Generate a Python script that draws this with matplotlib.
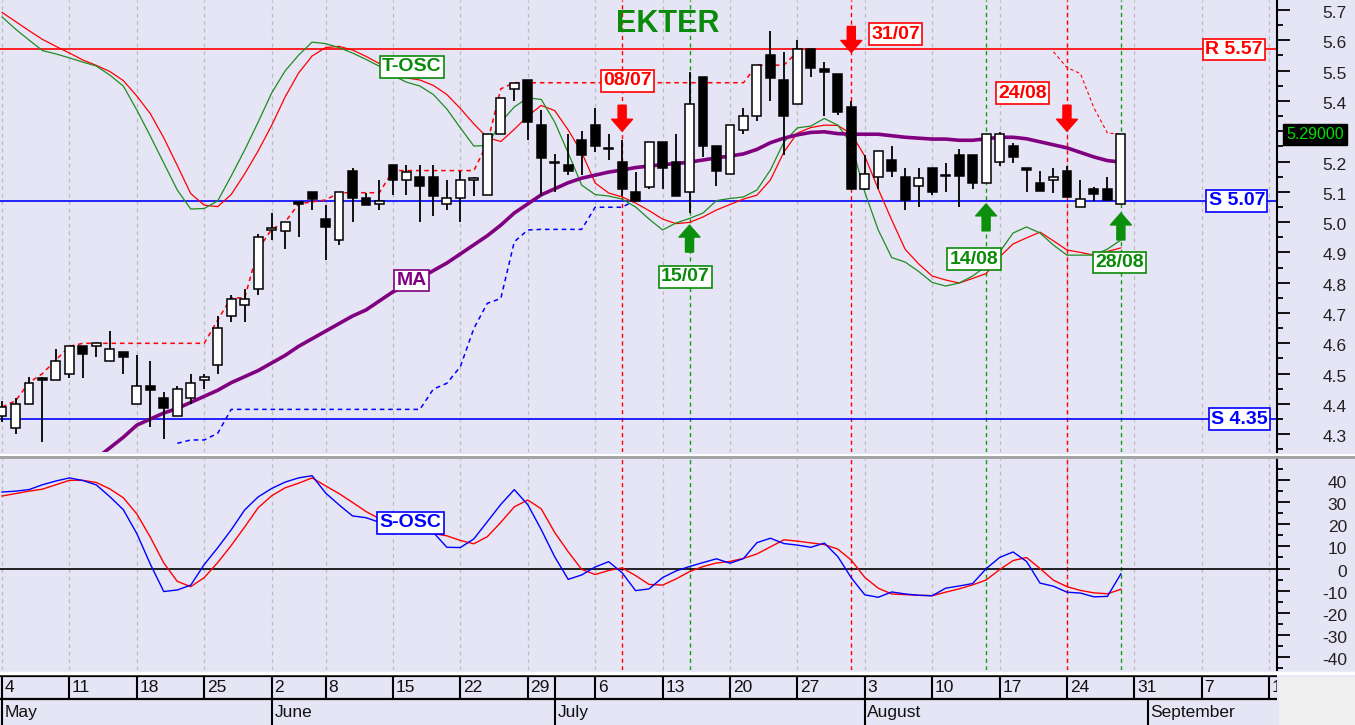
import numpy as np
import matplotlib.pyplot as plt
import matplotlib.transforms as mtrans
from matplotlib.lines import Line2D
from matplotlib.patches import Rectangle

plt.rcParams['font.family'] = ['Liberation Sans', 'DejaVu Sans']

# ---- daily candles (trading-day index 0 = 4 May) ----
opens = [4.36, 4.32, 4.40, 4.485, 4.48, 4.50, 4.59, 4.59, 4.54, 4.57,
         4.40, 4.46, 4.42, 4.36, 4.42, 4.48, 4.53, 4.69, 4.725, 4.78,
         4.975, 4.97, 5.065, 5.10, 5.01, 4.94, 5.17, 5.08, 5.06, 5.19,
         5.14, 5.15, 5.15, 5.06, 5.08, 5.14, 5.09, 5.29, 5.44, 5.47,
         5.32, 5.20, 5.19, 5.27, 5.32, 5.245, 5.20, 5.10, 5.115, 5.265,
         5.20, 5.10, 5.48, 5.25, 5.16, 5.305, 5.35, 5.55, 5.47, 5.39,
         5.57, 5.505, 5.49, 5.38, 5.108, 5.15, 5.205, 5.15, 5.12, 5.18,
         5.157, 5.22, 5.22, 5.128, 5.20, 5.25, 5.177, 5.13, 5.14, 5.17,
         5.05, 5.108, 5.108, 5.06]
highs = [4.41, 4.42, 4.49, 4.49, 4.58, 4.59, 4.59, 4.60, 4.64, 4.57,
         4.56, 4.54, 4.44, 4.46, 4.50, 4.50, 4.69, 4.76, 4.78, 4.96,
         5.03, 5.00, 5.065, 5.10, 5.055, 5.10, 5.18, 5.095, 5.14, 5.19,
         5.19, 5.19, 5.19, 5.14, 5.17, 5.15, 5.29, 5.41, 5.46, 5.47,
         5.37, 5.225, 5.29, 5.30, 5.375, 5.29, 5.27, 5.165, 5.265, 5.265,
         5.29, 5.495, 5.48, 5.25, 5.32, 5.375, 5.52, 5.63, 5.56, 5.60,
         5.57, 5.53, 5.49, 5.40, 5.22, 5.235, 5.25, 5.177, 5.177, 5.18,
         5.195, 5.24, 5.22, 5.29, 5.297, 5.26, 5.177, 5.17, 5.177, 5.186,
         5.14, 5.117, 5.15, 5.29]
lows = [4.34, 4.30, 4.40, 4.275, 4.48, 4.485, 4.485, 4.555, 4.54, 4.50,
        4.40, 4.325, 4.285, 4.36, 4.40, 4.45, 4.50, 4.67, 4.67, 4.76,
        4.94, 4.91, 4.95, 5.04, 4.875, 4.925, 5.00, 5.055, 5.04, 5.09,
        5.09, 5.00, 5.02, 5.04, 5.00, 5.085, 5.09, 5.29, 5.40, 5.27,
        5.085, 5.10, 5.155, 5.155, 5.23, 5.205, 5.085, 5.07, 5.11, 5.11,
        5.085, 5.03, 5.215, 5.12, 5.16, 5.29, 5.335, 5.40, 5.22, 5.39,
        5.48, 5.35, 5.355, 5.11, 5.105, 5.11, 5.15, 5.04, 5.05, 5.09,
        5.10, 5.05, 5.11, 5.128, 5.185, 5.195, 5.10, 5.104, 5.095, 5.084,
        5.05, 5.07, 5.073, 5.06]
closes = [4.39, 4.40, 4.47, 4.48, 4.54, 4.59, 4.565, 4.60, 4.58, 4.555,
          4.46, 4.445, 4.385, 4.45, 4.47, 4.49, 4.65, 4.745, 4.745, 4.95,
          4.975, 5.00, 5.06, 5.075, 4.985, 5.10, 5.08, 5.055, 5.07, 5.14,
          5.165, 5.12, 5.085, 5.08, 5.14, 5.147, 5.29, 5.41, 5.46, 5.33,
          5.21, 5.195, 5.17, 5.22, 5.25, 5.24, 5.11, 5.07, 5.265, 5.18,
          5.085, 5.39, 5.25, 5.17, 5.32, 5.35, 5.52, 5.475, 5.35, 5.57,
          5.51, 5.495, 5.365, 5.11, 5.16, 5.235, 5.17, 5.073, 5.147, 5.10,
          5.153, 5.152, 5.13, 5.29, 5.29, 5.215, 5.172, 5.104, 5.15, 5.084,
          5.076, 5.093, 5.073, 5.29]

# ---- moving average (starts at index 7) ----
ma_start = 7
ma = [4.22, 4.255, 4.29, 4.33, 4.35, 4.37, 4.385, 4.405, 4.425, 4.445,
      4.47, 4.49, 4.51, 4.535, 4.56, 4.59, 4.615, 4.64, 4.665, 4.69,
      4.71, 4.74, 4.77, 4.79, 4.815, 4.84, 4.865, 4.895, 4.925, 4.955,
      4.99, 5.03, 5.06, 5.09, 5.11, 5.13, 5.145, 5.155, 5.165, 5.172,
      5.18, 5.185, 5.19, 5.193, 5.198, 5.205, 5.212, 5.218, 5.225, 5.24,
      5.262, 5.277, 5.288, 5.296, 5.298, 5.292, 5.29, 5.29, 5.29, 5.285,
      5.28, 5.277, 5.274, 5.274, 5.27, 5.27, 5.275, 5.28, 5.28, 5.275,
      5.265, 5.255, 5.245, 5.23, 5.215, 5.203, 5.198]

# ---- T-OSC (drawn on the price scale) ----
tosc_green = [5.677, 5.637, 5.601, 5.566, 5.555, 5.542, 5.528, 5.515, 5.485, 5.449,
              5.370, 5.284, 5.195, 5.106, 5.043, 5.045, 5.070, 5.152, 5.238, 5.330,
              5.426, 5.499, 5.551, 5.594, 5.589, 5.576, 5.558, 5.537, 5.514, 5.484,
              5.462, 5.449, 5.421, 5.373, 5.311, 5.251, 5.253, 5.330, 5.380, 5.410,
              5.405, 5.330, 5.228, 5.122, 5.091, 5.086, 5.076, 5.050, 5.010, 4.974,
              4.997, 5.012, 5.030, 5.071, 5.078, 5.083, 5.106, 5.172, 5.264, 5.311,
              5.317, 5.342, 5.320, 5.258, 5.099, 4.974, 4.883, 4.868, 4.837, 4.801,
              4.789, 4.799, 4.822, 4.855, 4.901, 4.964, 4.984, 4.964, 4.924, 4.891,
              4.891, 4.891, 4.911, 4.941]
tosc_red = [5.692, 5.662, 5.632, 5.603, 5.580, 5.558, 5.535, 5.517, 5.497, 5.467,
            5.416, 5.358, 5.278, 5.187, 5.094, 5.056, 5.051, 5.091, 5.159, 5.235,
            5.319, 5.413, 5.492, 5.548, 5.576, 5.580, 5.568, 5.547, 5.523, 5.492,
            5.476, 5.469, 5.451, 5.421, 5.375, 5.324, 5.279, 5.266, 5.306, 5.350,
            5.385, 5.368, 5.304, 5.230, 5.129, 5.096, 5.083, 5.063, 5.038, 5.010,
            4.995, 4.999, 5.017, 5.040, 5.058, 5.076, 5.089, 5.139, 5.231, 5.294,
            5.312, 5.320, 5.319, 5.291, 5.218, 5.109, 5.007, 4.910, 4.862, 4.822,
            4.809, 4.799, 4.814, 4.830, 4.885, 4.928, 4.948, 4.967, 4.938, 4.908,
            4.900, 4.891, 4.903, 4.915]

# ---- trailing stops ----
trail_red_a = [4.39, 4.41, 4.47, 4.50, 4.545, 4.59, 4.60, 4.60, 4.60, 4.60,
               4.60, 4.60, 4.60, 4.60, 4.60, 4.60, 4.677, 4.75, 4.75, 4.91,
               4.976, 5.00, 5.06, 5.067, 5.073, 5.097, 5.097, 5.097, 5.097, 5.17,
               5.17, 5.17, 5.17, 5.17, 5.17, 5.17, 5.26, 5.44, 5.46, 5.46,
               5.46, 5.46, 5.46, 5.46, 5.46, 5.46, 5.46, 5.46, 5.46, 5.46,
               5.46, 5.46, 5.46, 5.46, 5.46, 5.46, 5.518, 5.518, 5.518, 5.562]
trail_red_b_start = 78
trail_red_b = [5.562, 5.51, 5.49, 5.377, 5.294, 5.29]
trail_blue_start = 13
trail_blue = [4.27, 4.281, 4.281, 4.303, 4.382, 4.382, 4.382, 4.382, 4.382, 4.382,
              4.382, 4.382, 4.382, 4.382, 4.382, 4.382, 4.382, 4.382, 4.382, 4.449,
              4.468, 4.523, 4.649, 4.732, 4.748, 4.935, 4.974, 4.976, 4.976, 4.976,
              4.976, 5.049, 5.049, 5.049, 5.073]

# ---- S-OSC (lower panel) ----
sosc_blue = [34.6, 35.0, 35.7, 37.9, 39.6, 41.0, 39.8, 37.8, 32.5, 26.6,
             15.8, 2.0, -10.4, -9.7, -7.5, 1.8, 9.4, 17.5, 26.5, 32.4,
             36.2, 39.1, 41.0, 42.0, 34.2, 28.8, 23.8, 23.0, 20.9, 19.5,
             18.5, 17.5, 16.3, 9.6, 9.5, 13.4, 21.2, 29.0, 35.7, 28.9,
             17.6, 5.3, -4.9, -2.9, 0.7, 3.1, -1.9, -10.0, -9.2, -4.1,
             -1.1, 0.9, 2.7, 4.4, 2.4, 4.5, 11.7, 13.7, 11.3, 10.6,
             9.6, 11.5, 5.4, -4.2, -11.9, -13.0, -10.6, -11.5, -12.1, -12.3,
             -8.9, -7.9, -6.8, -0.1, 5.0, 7.5, 3.2, -6.6, -8.0, -10.7,
             -11.1, -12.8, -12.6, -2.4]
sosc_red = [32.8, 33.9, 35.0, 35.9, 37.9, 39.9, 39.9, 38.9, 36.0, 32.0,
            24.7, 14.2, 2.5, -5.8, -8.2, -4.1, 2.7, 10.4, 18.8, 27.5,
            32.9, 36.5, 38.6, 41.0, 37.4, 33.9, 29.9, 25.8, 22.5, 20.5,
            18.5, 17.0, 15.8, 14.8, 12.7, 11.2, 14.4, 20.9, 27.9, 31.0,
            27.0, 16.3, 7.6, -0.4, -2.7, -0.9, 0.3, -3.2, -7.2, -7.5,
            -4.7, -1.4, 0.9, 2.5, 3.2, 4.6, 6.6, 9.8, 13.0, 12.4,
            11.6, 10.8, 8.8, 3.8, -4.0, -8.9, -11.5, -11.8, -12.1, -12.3,
            -10.7, -9.2, -7.4, -5.2, -0.5, 3.6, 5.0, 0.0, -5.3, -8.2,
            -9.9, -11.0, -11.4, -9.4]

# ---- levels and signals ----
levels = [5.57, 5.07, 4.35]
level_names = ['R 5.57', 'S 5.07', 'S 4.35']
level_colors = ['#ff0000', '#0000ff', '#0000ff']
level_lbl_x = [91.4, 91.6, 91.8]

sell_idx = [46, 63, 79]
sell_tip = [5.30, 5.56, 5.30]
sell_lbl = ['08/07', '31/07', '24/08']
sell_lbl_pos = [(46.4, 5.466), (66.3, 5.62), (75.7, 5.426)]
buy_idx = [51, 73, 83]
buy_tip = [4.99, 5.06, 5.03]
buy_lbl = ['15/07', '14/08', '28/08']
buy_lbl_pos = [(50.7, 4.819), (72.1, 4.878), (82.9, 4.867)]

# ---- date axis ----
week_idx = [0, 5, 10, 15, 20, 24, 29, 34, 39, 44, 49, 54, 59, 64, 69, 74, 79, 84, 89, 94]
week_lbl = ['4', '11', '18', '25', '2', '8', '15', '22', '29', '6', '13', '20', '27',
            '3', '10', '17', '24', '31', '7', '14']
month_idx = [0, 20, 41, 64, 85]
month_lbl = ['May', 'June', 'July', 'August', 'September']

price_ticks = [4.3, 4.4, 4.5, 4.6, 4.7, 4.8, 4.9, 5.0, 5.1, 5.2, 5.3, 5.4, 5.5, 5.6, 5.7]
osc_ticks = [40, 30, 20, 10, 0, -10, -20, -30, -40]

BG = '#e5e5f6'
RED = '#ff0000'
GREEN = '#0a8a0a'
BLUE = '#0000ff'
PURPLE = '#800080'
W, H = 1355, 725
XL = (-0.15, 94.58)

fig = plt.figure(figsize=(W / 100, H / 100), dpi=100, facecolor=BG)


def fy(py):
    return 1 - py / H


ax1 = fig.add_axes([0, fy(452), 1277 / W, 452 / H])
ax2 = fig.add_axes([0, fy(670), 1277 / W, (670 - 458) / H])
ax3 = fig.add_axes([0, 0, 1277 / W, 50 / H])

fig.add_artist(Line2D([0, 1], [fy(454.5)] * 2, color='white', lw=1.5, transform=fig.transFigure))
fig.add_artist(Line2D([0, 1], [fy(457)] * 2, color='#a0a0a0', lw=2.0, transform=fig.transFigure))
fig.add_artist(Line2D([0, 1], [fy(672.5)] * 2, color='white', lw=2.5, transform=fig.transFigure))
fig.add_artist(Rectangle((1279 / W, 0), 1 - 1279 / W, 48 / H, transform=fig.transFigure,
                         facecolor='#f0f0f0', edgecolor='none'))

for ax in (ax1, ax2):
    ax.set_facecolor(BG)
    ax.set_xlim(*XL)
    for s in ('left', 'top', 'bottom'):
        ax.spines[s].set_visible(False)
    ax.spines['right'].set_linewidth(1.5)
    ax.set_xticks([])
    ax.yaxis.tick_right()
    ax.tick_params(axis='y', which='major', length=9.4, width=1.3, direction='out',
                   labelright=False, labelleft=False)
    ax.tick_params(axis='y', which='minor', length=4.3, width=1.3, direction='out')
    for i in week_idx:
        ax.axvline(i, color='#bcbcbc', lw=0.9, ls=(0, (3, 3)), zorder=1)
    for i in sell_idx:
        ax.axvline(i, color=RED, lw=1.0, ls=(0, (3, 2.5)), zorder=2)
    for i in buy_idx:
        ax.axvline(i, color='#1a9a1a', lw=1.0, ls=(0, (3, 2.5)), zorder=2)

# ---- main panel ----
ax1.set_ylim(4.2413, 5.733)
ax1.set_yticks(price_ticks)
ax1.set_yticks([t + 0.05 for t in price_ticks[:-1]] + [4.25], minor=True)
lab1 = mtrans.offset_copy(mtrans.blended_transform_factory(ax1.transAxes, ax1.transData),
                          fig=fig, y=-2, units='dots')
for t in price_ticks:
    # the last-price box sits over the label nearest to the last close
    if abs(t - closes[-1]) < 0.05:
        continue
    ax1.text(1347 / 1277, t, f'{t:.1f}', transform=lab1, ha='right', va='center_baseline',
             fontsize=12.5, color='#222222', clip_on=False)

for lv, col in zip(levels, level_colors):
    ax1.axhline(lv, color=col, lw=1.2, zorder=2)

xr = np.arange(len(trail_red_a))
ax1.plot(xr, trail_red_a, color=RED, lw=1.1, ls=(0, (3, 2.5)), zorder=3)
xb = np.arange(trail_red_b_start, trail_red_b_start + len(trail_red_b))
ax1.plot(xb, trail_red_b, color=RED, lw=0.8, ls=(0, (3, 2.5)), zorder=3)
xbl = np.arange(trail_blue_start, trail_blue_start + len(trail_blue))
ax1.plot(xbl, trail_blue, color=BLUE, lw=1.1, ls=(0, (3, 2.5)), zorder=3)

xt = np.arange(len(tosc_green))
ax1.plot(xt, tosc_red, color=RED, lw=0.9, zorder=3)
ax1.plot(xt, tosc_green, color='#1e8c1e', lw=0.9, zorder=3)
xm = np.arange(ma_start, ma_start + len(ma))
ax1.plot(xm, ma, color=PURPLE, lw=2.6, zorder=4, solid_capstyle='round')

o = np.array(opens)
c = np.array(closes)
x = np.arange(len(closes))
up = c >= o
ax1.vlines(x, lows, highs, color='black', lw=1.3, zorder=5)
ax1.bar(x, np.maximum(np.abs(c - o), 0.004), bottom=np.minimum(o, c), width=0.66,
        color=np.where(up, 'white', 'black'), edgecolor='black', linewidth=1.1, zorder=6)

box_kw = dict(fontsize=14, weight='bold', ha='center', va='center', zorder=9)
for name, lv, col, lx in zip(level_names, levels, level_colors, level_lbl_x):
    ax1.text(lx, lv, name, color=col,
             bbox=dict(boxstyle='square,pad=0.12', fc='white', ec=col, lw=1.2), **box_kw)
for s, (lx, ly) in zip(sell_lbl, sell_lbl_pos):
    ax1.text(lx, ly, s, color=RED,
             bbox=dict(boxstyle='square,pad=0.12', fc='white', ec=RED, lw=1.2), **box_kw)
for s, (lx, ly) in zip(buy_lbl, buy_lbl_pos):
    ax1.text(lx, ly, s, color=GREEN,
             bbox=dict(boxstyle='square,pad=0.12', fc='white', ec=GREEN, lw=1.2), **box_kw)
ax1.text(30.4, 5.512, 'T-OSC', color=GREEN,
         bbox=dict(boxstyle='square,pad=0.12', fc='white', ec=GREEN, lw=1.2), **box_kw)
ax1.text(30.4, 4.807, 'MA', color=PURPLE,
         bbox=dict(boxstyle='square,pad=0.12', fc='white', ec=PURPLE, lw=1.2), **box_kw)
ax1.text(49.4, 5.655, 'EKTER', color=GREEN, fontsize=22, weight='bold',
         ha='center', va='center', zorder=9)

arrow_style = 'simple,head_length=8.6,head_width=15,tail_width=5.8'
for i, tip in zip(sell_idx, sell_tip):
    ax1.annotate('', xy=(i, tip), xytext=(0, 18.7), textcoords='offset points', zorder=9,
                 arrowprops=dict(arrowstyle=arrow_style, mutation_scale=1, color=RED,
                                 shrinkA=0, shrinkB=0))
for i, tip in zip(buy_idx, buy_tip):
    ax1.annotate('', xy=(i, tip), xytext=(0, -19.4), textcoords='offset points', zorder=9,
                 arrowprops=dict(arrowstyle=arrow_style, mutation_scale=1, color='#0c8f0c',
                                 shrinkA=0, shrinkB=0))

last_tr = mtrans.blended_transform_factory(ax1.transAxes, ax1.transData)
ax1.text(1315 / 1277, closes[-1], f'{closes[-1]:.5f}', transform=last_tr, ha='center',
         va='center', color='#00e000', fontsize=11.5, clip_on=False, zorder=10,
         bbox=dict(boxstyle='square,pad=0.2', fc='black', ec='black'))

# ---- oscillator panel ----
ax2.set_ylim(-45.9, 50.0)
ax2.set_yticks(osc_ticks)
ax2.set_yticks([45, 35, 25, 15, 5, -5, -15, -25, -35, -45], minor=True)
lab2 = mtrans.offset_copy(mtrans.blended_transform_factory(ax2.transAxes, ax2.transData),
                          fig=fig, y=-2, units='dots')
for t in osc_ticks:
    ax2.text(1347 / 1277, t, str(t), transform=lab2, ha='right', va='center_baseline',
             fontsize=12.5, color='#222222', clip_on=False)
ax2.axhline(0, color='black', lw=1.2, zorder=2)
ax2.plot(x, sosc_red, color=RED, lw=1.0, zorder=3)
ax2.plot(x, sosc_blue, color=BLUE, lw=1.0, zorder=3)
ax2.text(30.3, 20.6, 'S-OSC', color=BLUE,
         bbox=dict(boxstyle='square,pad=0.12', fc='white', ec=BLUE, lw=1.2), **box_kw)

# ---- date axis ----
ax3.set_facecolor(BG)
ax3.set_xlim(*XL)
ax3.set_ylim(0, 50)
ax3.axis('off')
ax3.axhline(49.3, color='black', lw=1.6)
ax3.axhline(26.5, color='black', lw=1.6)
ax3.vlines(week_idx + [41], 26.5, 50, color='black', lw=1.5)
ax3.vlines(month_idx, 0, 26.5, color='black', lw=1.5)
for i, s in zip(week_idx, week_lbl):
    ax3.text(i + 0.2, 37.5, s, ha='left', va='center', fontsize=12.5, color='#111111',
             clip_on=True)
for i, s in zip(month_idx, month_lbl):
    ax3.text(i + 0.2, 12.5, s, ha='left', va='center', fontsize=12.5, color='#111111',
             clip_on=True)

fig.savefig('out.png', dpi=100, facecolor=BG)
